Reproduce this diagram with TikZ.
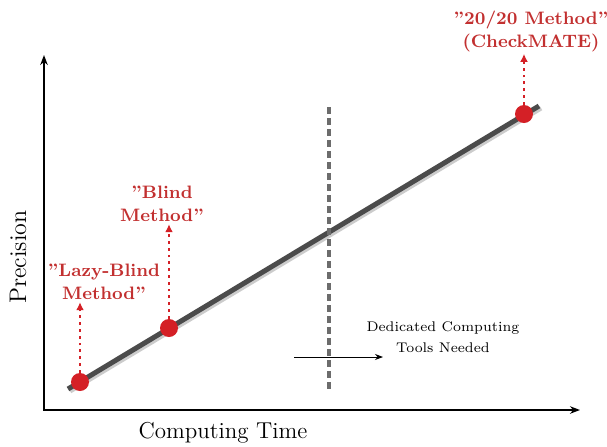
\documentclass[tikz,border=0pt]{standalone}
\usepackage[]{color}
\usepackage{tikz}
\usetikzlibrary{arrows.meta}

\definecolor{dotred}{RGB}{212,32,38}
\definecolor{labred}{RGB}{194,48,48}
\definecolor{linegray}{RGB}{75,75,75}

\begin{document}
\begin{tikzpicture}[x = 0.5pt, y = -0.5pt,
  method/.style = {circle, fill = dotred, inner sep = 0pt, minimum size = 9pt},
  methodlabel/.style = {text = labred, align = center, font = \fontsize{9}{11.5}\selectfont\bfseries, inner sep = 1pt},
  lift/.style = {dotred, line width = 1.4pt, dotted, -{Latex[length = 4pt, width = 4pt]}}]
\useasboundingbox (0, 0) rectangle (607, 446);
% axes
\draw [<->, >={Stealth[length = 5pt]}, thick] (44, 55) node (yaxis) {} 
  |- (580, 410) node (xaxis) {};
\node (ytitle) at (18, 257) [rotate = 90] {\fontsize{12}{14}\selectfont Precision};
\node (xtitle) at (223, 433) {\fontsize{11.5}{14}\selectfont Computing Time};
% trend line
\draw [line width = 2.5pt, color = gray!40] (70, 391) to (541, 108);
\draw [line width = 2.5pt, color = linegray] (68, 389) to (539, 106);
%\draw [line width = 2.5pt, color = linegray] (68, 389) to (539, 106);
\draw [dashed, line width = 2pt, color = gray!85!black, dash pattern = on 3.5pt off 2pt] (329, 107) to (329, 390);
\node (lazy) at (80, 382) [method] {};
\node (blind) at (169, 328) [method] {};
\node (check) at (524, 114) [method] {};
\node (lazylbl) at (104, 282) [methodlabel] {''Lazy-Blind\\Method''};
\node (blindlbl) at (162, 204) [methodlabel] {''Blind\\Method''};
\node (checklbl) at (531, 31) [methodlabel] {''20/20 Method''\\(CheckMATE)};
\draw [lift] (lazy) to (lazy |- lazylbl.south);
\draw [lift] (blind) to (blind |- blindlbl.south);
\draw [lift] (check) to (check |- checklbl.south);
% dedicated tools
\coordinate (from) at (294, 357);
\coordinate (to) at (383, 357);
\draw [->, >={Stealth[length = 4pt]}] (from) to (to);
\node (tools) at (443, 337) [align = center, font = \fontsize{7}{10.5}\selectfont] {Dedicated Computing\\Tools Needed};
\end{tikzpicture}
\end{document}
